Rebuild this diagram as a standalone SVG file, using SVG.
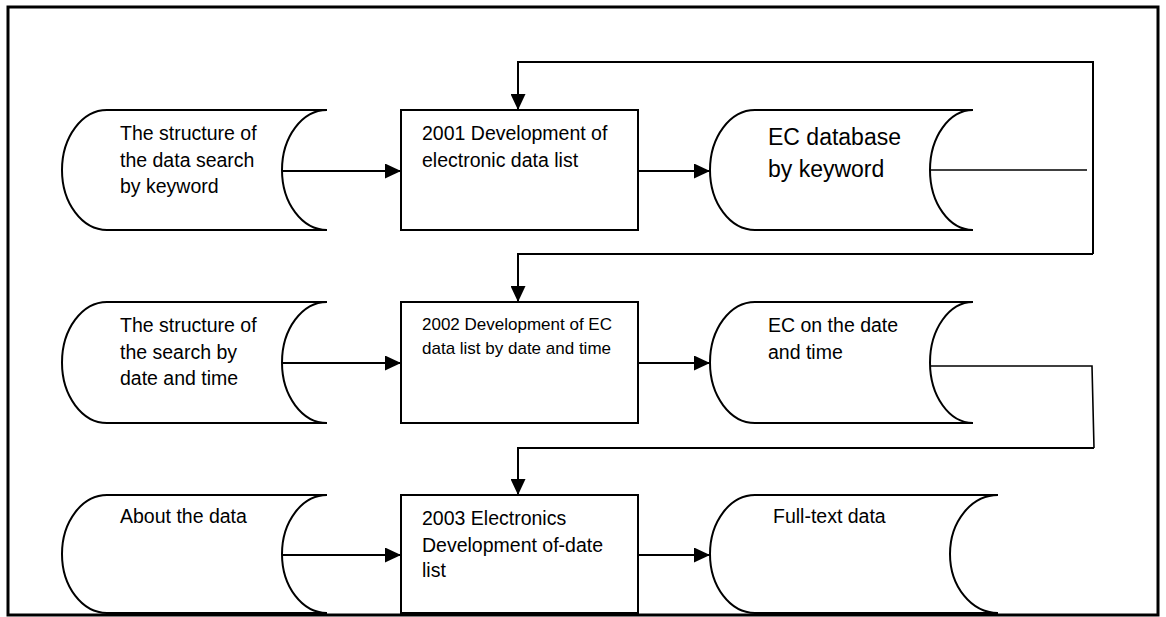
<svg xmlns="http://www.w3.org/2000/svg" width="1166" height="617" viewBox="0 0 1166 617">
<style>
.frame{fill:none;stroke:#000;stroke-width:3}
.shape{fill:#fff;stroke:#000;stroke-width:2}
.conn{fill:none;stroke:#000;stroke-width:2}
.thin{fill:none;stroke:#000;stroke-width:1.6}
text{font-family:"Liberation Sans",Arial,sans-serif;font-size:19.5px;fill:#000}
.big{font-size:23px}
.small{font-size:17px}
</style>
<defs>
<marker id="arr" markerUnits="userSpaceOnUse" markerWidth="16" markerHeight="15" viewBox="0 0 16 15" refX="16" refY="7.5" orient="auto">
<path d="M0,0 L16,7.5 L0,15 Z" fill="#000"/>
</marker>
</defs>
<rect class="frame" x="8" y="7" width="1150" height="608"/>

<g id="connectors">
<path class="conn" d="M282,171 H401" marker-end="url(#arr)"/>
<path class="conn" d="M638,171 H710" marker-end="url(#arr)"/>
<path class="conn" d="M282,363 H401" marker-end="url(#arr)"/>
<path class="conn" d="M638,363 H710" marker-end="url(#arr)"/>
<path class="conn" d="M282,555 H401" marker-end="url(#arr)"/>
<path class="conn" d="M638,555 H710" marker-end="url(#arr)"/>
<path class="thin" d="M930,170 H1087"/>
<path class="conn" d="M1093,254 V62 H518 V110" marker-end="url(#arr)"/>
<path class="conn" d="M1093,254 H518 V302" marker-end="url(#arr)"/>
<path class="thin" d="M926,366 H1092 L1094,448"/>
<path class="conn" d="M1094,448 H518 V495" marker-end="url(#arr)"/>
</g>

<g id="n1">
<path class="shape" d="M327,110 H107 A45,60 0 0 0 62,170 A45,60 0 0 0 107,230 H327 A45,60 0 0 1 282,170 A45,60 0 0 1 327,110 Z"/>
<text x="120" y="140">The structure of</text>
<text x="120" y="166.5">the data search</text>
<text x="120" y="193">by keyword</text>
</g>
<g id="n2">
<rect class="shape" x="401" y="110" width="237" height="120"/>
<text x="422" y="140">2001 Development of</text>
<text x="422" y="166.5">electronic data list</text>
</g>
<g id="n3">
<path class="shape" d="M973,110 H755 A45,60 0 0 0 710,170 A45,60 0 0 0 755,230 H973 A43,60 0 0 1 930,170 A43,60 0 0 1 973,110 Z"/>
<text class="big" x="768" y="145">EC database</text>
<text class="big" x="768" y="177">by keyword</text>
</g>

<g id="n4">
<path class="shape" d="M327,302 H107 A45,60.5 0 0 0 62,362.5 A45,60.5 0 0 0 107,423 H327 A45,60.5 0 0 1 282,362.5 A45,60.5 0 0 1 327,302 Z"/>
<text x="120" y="332">The structure of</text>
<text x="120" y="358.5">the search by</text>
<text x="120" y="385">date and time</text>
</g>
<g id="n5">
<rect class="shape" x="401" y="302" width="237" height="121"/>
<text class="small" x="422" y="330">2002 Development of EC</text>
<text class="small" x="422" y="353.5">data list by date and time</text>
</g>
<g id="n6">
<path class="shape" d="M973,302 H755 A45,60.5 0 0 0 710,362.5 A45,60.5 0 0 0 755,423 H973 A43,60.5 0 0 1 930,362.5 A43,60.5 0 0 1 973,302 Z"/>
<text x="768" y="332">EC on the date</text>
<text x="768" y="358.5">and time</text>
</g>

<g id="n7">
<path class="shape" d="M327,495 H107 A45,59 0 0 0 62,554 A45,59 0 0 0 107,613 H327 A45,59 0 0 1 282,554 A45,59 0 0 1 327,495 Z"/>
<text x="120" y="523">About the data</text>
</g>
<g id="n8">
<rect class="shape" x="401" y="495" width="237" height="118"/>
<text x="422" y="525">2003 Electronics</text>
<text x="422" y="551.5">Development of-date</text>
<text x="422" y="577">list</text>
</g>
<g id="n9">
<path class="shape" d="M998,495 H755 A45,59 0 0 0 710,554 A45,59 0 0 0 755,613 H998 A48,59 0 0 1 950,554 A48,59 0 0 1 998,495 Z"/>
<text x="773" y="523">Full-text data</text>
</g>
</svg>
